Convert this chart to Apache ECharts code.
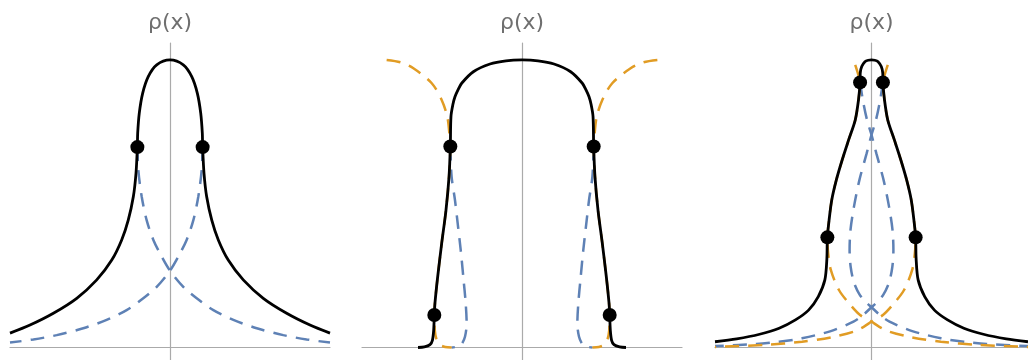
<!DOCTYPE html>
<html><head><meta charset="utf-8">
<script src="https://cdn.jsdelivr.net/npm/echarts/dist/echarts.min.js"></script>
<style>html,body{margin:0;padding:0;background:#fff}#c{width:1028px;height:360px}</style>
</head><body><div id="c"></div>
<script>
const axisName = 'ρ(x)';

// ---------- Panel 1 ----------
const p1Black = [[-1.0,0.05],[-0.875,0.078],[-0.729,0.119],[-0.583,0.171],[-0.458,0.235],[-0.364,0.304],[-0.302,0.374],[-0.261,0.443],[-0.229,0.525],[-0.2125,0.606],[-0.204,0.697],[-0.202,0.745],[-0.192,0.815],[-0.171,0.884],[-0.136,0.942],[-0.083,0.983],[0,1.0],[0.083,0.983],[0.136,0.942],[0.171,0.884],[0.192,0.815],[0.202,0.745],[0.204,0.697],[0.2125,0.606],[0.229,0.525],[0.261,0.443],[0.302,0.374],[0.364,0.304],[0.458,0.235],[0.583,0.171],[0.729,0.119],[0.875,0.078],[1.0,0.05]];
const p1BlueA = [[-0.204,0.697],[-0.198,0.617],[-0.177,0.525],[-0.146,0.443],[-0.104,0.374],[-0.052,0.316],[0,0.267],[0.083,0.211],[0.167,0.171],[0.271,0.130],[0.396,0.096],[0.542,0.067],[0.708,0.043],[0.854,0.028],[1.0,0.017]];
const p1BlueB = [[0.204,0.697],[0.198,0.617],[0.177,0.525],[0.146,0.443],[0.104,0.374],[0.052,0.316],[0,0.267],[-0.083,0.211],[-0.167,0.171],[-0.271,0.130],[-0.396,0.096],[-0.542,0.067],[-0.708,0.043],[-0.854,0.028],[-1.0,0.017]];
const p1Dots = [[-0.204,0.697],[0.204,0.697]];

// ---------- Panel 2 ----------
const p2Black = [[-0.65,0.0],[-0.61,0.002],[-0.575,0.01],[-0.56,0.025],[-0.552,0.06],[-0.548,0.113],[-0.544,0.154],[-0.527,0.246],[-0.502,0.362],[-0.475,0.478],[-0.456,0.594],[-0.448,0.699],[-0.444,0.803],[-0.432,0.845],[-0.419,0.872],[-0.4,0.896],[-0.377,0.919],[-0.304,0.959],[-0.2,0.986],[-0.1,0.997],[0,1.0],[0.1,0.997],[0.2,0.986],[0.304,0.959],[0.377,0.919],[0.4,0.896],[0.419,0.872],[0.432,0.845],[0.444,0.803],[0.448,0.699],[0.456,0.594],[0.475,0.478],[0.502,0.362],[0.527,0.246],[0.544,0.154],[0.548,0.113],[0.552,0.06],[0.56,0.025],[0.575,0.01],[0.61,0.002],[0.65,0.0]];
const p2OrangeL = [[-0.846,1.0],[-0.76,0.992],[-0.679,0.971],[-0.564,0.919],[-0.502,0.861],[-0.467,0.803],[-0.454,0.745],[-0.448,0.699],[-0.456,0.594],[-0.475,0.478],[-0.502,0.362],[-0.527,0.246],[-0.544,0.154],[-0.548,0.113],[-0.545,0.06],[-0.535,0.03],[-0.5125,0.009],[-0.48,0.002],[-0.44,0.0]];
const p2OrangeR = [[0.846,1.0],[0.76,0.992],[0.679,0.971],[0.564,0.919],[0.502,0.861],[0.467,0.803],[0.454,0.745],[0.448,0.699],[0.456,0.594],[0.475,0.478],[0.502,0.362],[0.527,0.246],[0.544,0.154],[0.548,0.113],[0.545,0.06],[0.535,0.03],[0.5125,0.009],[0.48,0.002],[0.44,0.0]];
const p2BlueL = [[-0.448,0.699],[-0.44,0.594],[-0.419,0.513],[-0.402,0.432],[-0.383,0.339],[-0.367,0.246],[-0.352,0.154],[-0.346,0.084],[-0.356,0.038],[-0.377,0.012],[-0.405,0.003],[-0.44,0.0]];
const p2BlueR = [[0.448,0.699],[0.44,0.594],[0.419,0.513],[0.402,0.432],[0.383,0.339],[0.367,0.246],[0.352,0.154],[0.346,0.084],[0.356,0.038],[0.377,0.012],[0.405,0.003],[0.44,0.0]];
const p2Dots = [[-0.448,0.699],[0.448,0.699],[-0.548,0.113],[0.548,0.113]];

// ---------- Panel 3 ----------
const p3Black = [[-1.0,0.02],[-0.861,0.030],[-0.715,0.046],[-0.59,0.067],[-0.486,0.096],[-0.402,0.130],[-0.34,0.177],[-0.298,0.235],[-0.285,0.31],[-0.282,0.383],[-0.271,0.443],[-0.254,0.513],[-0.225,0.582],[-0.1875,0.652],[-0.146,0.722],[-0.104,0.791],[-0.083,0.861],[-0.073,0.922],[-0.072,0.954],[-0.0625,0.977],[-0.042,0.994],[-0.021,0.999],[0,1.0],[0.021,0.999],[0.042,0.994],[0.0625,0.977],[0.072,0.954],[0.073,0.922],[0.083,0.861],[0.104,0.791],[0.146,0.722],[0.1875,0.652],[0.225,0.582],[0.254,0.513],[0.271,0.443],[0.282,0.383],[0.285,0.31],[0.298,0.235],[0.34,0.177],[0.402,0.130],[0.486,0.096],[0.59,0.067],[0.715,0.046],[0.861,0.030],[1.0,0.02]];
const p3BlueA = [[-0.073,0.922],[-0.055,0.86],[-0.028,0.79],[0,0.74],[0.031,0.675],[0.077,0.583],[0.112,0.49],[0.134,0.41],[0.14,0.34],[0.133,0.28],[0.112,0.226],[0.075,0.183],[0.035,0.158],[0,0.14],[-0.05,0.115],[-0.115,0.09],[-0.26,0.057],[-0.444,0.032],[-0.59,0.02],[-0.736,0.012],[-1.0,0.005]];
const p3BlueB = [[0.073,0.922],[0.055,0.86],[0.028,0.79],[0,0.74],[-0.031,0.675],[-0.077,0.583],[-0.112,0.49],[-0.134,0.41],[-0.14,0.34],[-0.133,0.28],[-0.112,0.226],[-0.075,0.183],[-0.035,0.158],[0,0.14],[0.05,0.115],[0.115,0.09],[0.26,0.057],[0.444,0.032],[0.59,0.02],[0.736,0.012],[1.0,0.005]];
const p3OrangeA = [[-0.104,0.983],[-0.085,0.95],[-0.073,0.922],[-0.083,0.861],[-0.104,0.791],[-0.146,0.722],[-0.1875,0.652],[-0.225,0.582],[-0.254,0.513],[-0.271,0.443],[-0.282,0.383],[-0.277,0.328],[-0.26,0.27],[-0.208,0.2],[-0.135,0.148],[-0.073,0.113],[0,0.09],[0.05,0.072],[0.115,0.055],[0.26,0.035],[0.444,0.02],[0.677,0.009],[1.0,0.002]];
const p3OrangeB = [[0.104,0.983],[0.085,0.95],[0.073,0.922],[0.083,0.861],[0.104,0.791],[0.146,0.722],[0.1875,0.652],[0.225,0.582],[0.254,0.513],[0.271,0.443],[0.282,0.383],[0.277,0.328],[0.26,0.27],[0.208,0.2],[0.135,0.148],[0.073,0.113],[0,0.09],[-0.05,0.072],[-0.115,0.055],[-0.26,0.035],[-0.444,0.02],[-0.677,0.009],[-1.0,0.002]];
const p3Dots = [[-0.073,0.922],[0.073,0.922],[-0.282,0.383],[0.282,0.383]];

const BLUE = '#5E81B5', ORANGE = '#E19C24', BLACK = '#000000', AXIS = '#aaaaaa';
const panels = [
  {left: 10, blue: [p1BlueA, p1BlueB], orange: [], black: p1Black, dots: p1Dots},
  {left: 362, blue: [p2BlueL, p2BlueR], orange: [p2OrangeL, p2OrangeR], black: p2Black, dots: p2Dots},
  {left: 715, blue: [p3BlueA, p3BlueB], orange: [p3OrangeA, p3OrangeB], black: p3Black, dots: p3Dots}
];

const grid = [], xAxis = [], yAxis = [], series = [];
panels.forEach((p, i) => {
  grid.push({left: p.left, top: 43, width: 320, height: 317});
  xAxis.push({type: 'value', gridIndex: i, min: -1, max: 1,
    axisLine: {show: true, onZero: true, lineStyle: {color: AXIS, width: 1.2}},
    axisTick: {show: false}, axisLabel: {show: false}, splitLine: {show: false}});
  yAxis.push({type: 'value', gridIndex: i, min: -0.0435, max: 1.059,
    name: axisName, nameLocation: 'end', nameGap: 9,
    nameTextStyle: {color: '#6f6f6f', fontSize: 22, fontFamily: 'DejaVu Sans'},
    axisLine: {show: true, onZero: true, lineStyle: {color: AXIS, width: 1.2}},
    axisTick: {show: false}, axisLabel: {show: false}, splitLine: {show: false}});
  const dashed = (data, color) => ({type: 'line', xAxisIndex: i, yAxisIndex: i, data,
    showSymbol: false, smooth: 0.3, clip: false, z: 2,
    lineStyle: {color, width: 2.5, type: [14, 9]}});
  p.blue.forEach(d => series.push(dashed(d, BLUE)));
  p.orange.forEach(d => series.push(dashed(d, ORANGE)));
  series.push({type: 'line', xAxisIndex: i, yAxisIndex: i, data: p.black,
    showSymbol: false, smooth: 0.3, clip: false, z: 3,
    lineStyle: {color: BLACK, width: 2.8}});
  series.push({type: 'scatter', xAxisIndex: i, yAxisIndex: i, data: p.dots,
    symbolSize: 14, itemStyle: {color: BLACK, opacity: 1}, z: 4});
});

const chart = echarts.init(document.getElementById('c'), null, {renderer: 'canvas'});
chart.setOption({animation: false, backgroundColor: '#ffffff', grid, xAxis, yAxis, series});
</script>
</body></html>
